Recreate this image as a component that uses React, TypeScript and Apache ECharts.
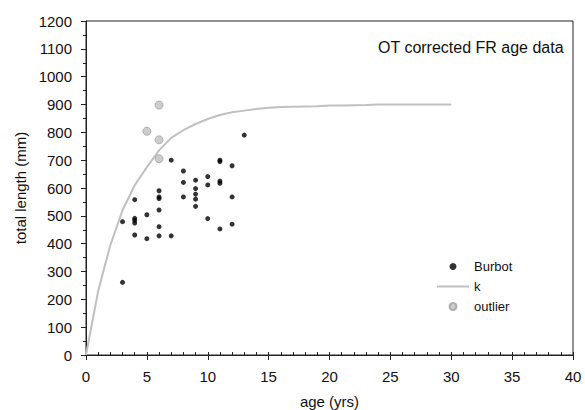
import React, { useEffect, useRef } from "react";
import * as echarts from "echarts";

const burbotAge = [3, 3, 4, 4, 4, 4, 4, 5, 5, 6, 6, 6, 6, 6, 6, 7, 7, 8, 8, 8, 9, 9, 9, 9, 9, 10, 10, 10, 11, 11, 11, 11, 11, 12, 12, 12, 13];
const burbotLen = [479, 261, 558, 491, 484, 474, 431, 504, 418, 590, 568, 562, 521, 461, 428, 700, 428, 661, 620, 568, 628, 598, 578, 560, 534, 641, 611, 490, 700, 695, 625, 617, 453, 680, 568, 470, 790];

const outlierAge = [5, 6, 6, 6];
const outlierLen = [804, 898, 773, 705];

const curveAge = [0, 1, 2, 3, 4, 5, 6, 7, 8, 9, 10, 11, 12, 13, 14, 15, 16, 17, 18, 19, 20, 21, 22, 23, 24, 25, 26, 27, 28, 29, 30];
const curveLen = [0, 230, 395, 520, 610, 675, 735, 780, 808, 830, 848, 862, 872, 878, 884, 888, 891, 892, 893, 894, 896, 896, 897, 898, 900, 900, 900, 900, 900, 900, 900];

const FONT = "'Liberation Sans', Arial, sans-serif";

export default function App() {
  const ref = useRef<HTMLDivElement>(null);
  useEffect(() => {
    if (!ref.current) return;
    const chart = echarts.init(ref.current, null, { renderer: "svg" });
    const axisCommon = {
      type: "value" as const,
      axisLine: { show: true, lineStyle: { color: "#222", width: 1 } },
      splitLine: { show: false },
    };
    chart.setOption({
      animation: false,
      textStyle: { fontFamily: FONT },
      title: {
        text: "OT corrected FR age data",
        left: 373,
        top: 34,
        textStyle: { fontSize: 16, fontWeight: "normal", color: "#111", fontFamily: FONT },
      },
      grid: {
        left: 86,
        right: 12,
        top: 21,
        bottom: 55,
        show: true,
        borderColor: "#222",
        borderWidth: 1,
        containLabel: false,
        outerBoundsMode: "none",
      },
      legend: {
        orient: "vertical",
        left: 432,
        top: 255,
        itemWidth: 32,
        itemHeight: 7,
        itemGap: 7,
        textStyle: { fontSize: 13, color: "#111", fontFamily: FONT },
        data: [
          { name: "Burbot" },
          { name: "k", icon: "path://M0,0 L32,0 L32,2 L0,2 Z" },
          { name: "outlier" },
        ],
      },
      xAxis: [
        {
          ...axisCommon,
          min: 0,
          max: 40,
          interval: 5,
          name: "age (yrs)",
          nameLocation: "middle",
          nameGap: 39,
          nameTextStyle: { fontSize: 15, color: "#111", fontFamily: FONT },
          axisTick: { show: true, inside: false, length: 5, lineStyle: { color: "#222" } },
          minorTick: { show: false },
          axisLabel: { fontSize: 15, color: "#111", margin: 14, fontFamily: FONT },
        },
        {
          ...axisCommon,
          position: "bottom",
          min: 0,
          max: 40,
          interval: 5,
          axisLine: { show: false },
          axisTick: { show: true, inside: true, length: 3, lineStyle: { color: "#222" } },
          minorTick: { show: true, splitNumber: 5, length: 3, lineStyle: { color: "#222" } },
          axisLabel: { show: false },
        },
      ],
      yAxis: [
        {
          ...axisCommon,
          min: 0,
          max: 1200,
          interval: 100,
          name: "total length (mm)",
          nameLocation: "middle",
          nameGap: 58,
          nameTextStyle: { fontSize: 15, color: "#111", fontFamily: FONT },
          axisTick: { show: true, inside: false, length: 5, lineStyle: { color: "#222" } },
          minorTick: { show: true, splitNumber: 2, length: 3, lineStyle: { color: "#222" } },
          axisLabel: {
            fontSize: 15,
            color: "#111",
            margin: 14,
            fontFamily: FONT,
            formatter: (v: number) => String(v),
          },
        },
      ],
      series: [
        {
          name: "Burbot",
          type: "scatter",
          symbol: "circle",
          symbolSize: 5,
          itemStyle: { color: "#000" },
          data: burbotAge.map((a, i) => [a, burbotLen[i]]),
          z: 4,
        },
        {
          name: "k",
          type: "line",
          symbol: "none",
          lineStyle: { color: "#c0c0c0", width: 2 },
          itemStyle: { color: "#c0c0c0" },
          data: curveAge.map((a, i) => [a, curveLen[i]]),
          z: 3,
        },
        {
          name: "outlier",
          type: "scatter",
          symbol: "circle",
          symbolSize: 8,
          itemStyle: { color: "#c0c0c0", borderColor: "#a0a0a0", borderWidth: 1 },
          data: outlierAge.map((a, i) => [a, outlierLen[i]]),
          z: 4,
        },
      ],
    });
    return () => chart.dispose();
  }, []);
  return <div ref={ref} style={{ width: 585, height: 410, position: "absolute", left: 0, top: 0 }} />;
}
